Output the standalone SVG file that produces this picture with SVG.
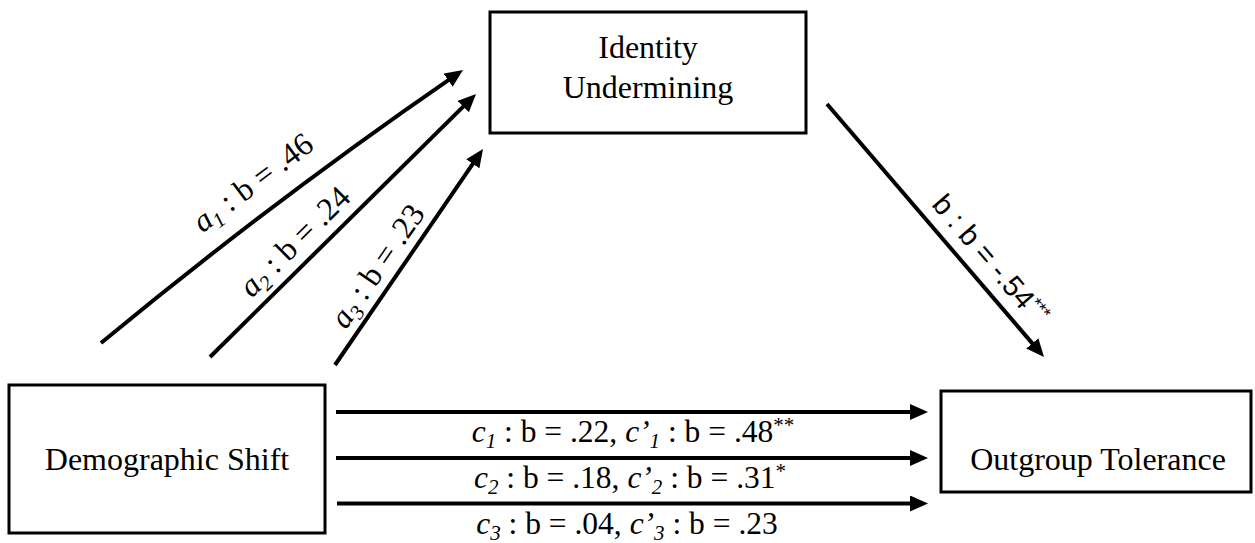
<svg xmlns="http://www.w3.org/2000/svg" width="1255" height="543" viewBox="0 0 1255 543">
<style>
.box{fill:#fff;stroke:#000;stroke-width:3}
.node{font-family:"Liberation Serif","Times New Roman",serif;font-size:32px;fill:#000;text-anchor:middle}
.edge{fill:none;stroke:#000;stroke-width:4;stroke-linecap:butt}
.lbl{font-family:"Liberation Serif","Times New Roman",serif;font-size:31.5px;fill:#000;text-anchor:middle}
.albl{font-family:"Liberation Serif","Times New Roman",serif;font-size:32px;fill:#000;text-anchor:middle}
.slbl{font-family:"Liberation Sans",Arial,sans-serif;font-size:29px;fill:#000;text-anchor:middle}
.it{font-style:italic}
</style>
<defs>
<marker id="ah" markerUnits="userSpaceOnUse" markerWidth="20" markerHeight="18" refX="6" refY="8" orient="auto">
<path d="M0,0 L18,8 L0,16 Z" fill="#000"/>
</marker>
</defs>
<rect width="1255" height="543" fill="#fff"/>
<g id="connectors">
<path class="edge" marker-end="url(#ah)" d="M101,343 Q276,198.5 453.1,76.8"/>
<line class="edge" marker-end="url(#ah)" x1="210" y1="357" x2="467.5" y2="102.4"/>
<line class="edge" marker-end="url(#ah)" x1="335" y1="365" x2="476.2" y2="158.9"/>
<line class="edge" marker-end="url(#ah)" x1="827" y1="104" x2="1036.2" y2="347.9"/>
<line class="edge" marker-end="url(#ah)" x1="336" y1="412" x2="916" y2="412"/>
<line class="edge" marker-end="url(#ah)" x1="336" y1="458" x2="916" y2="458"/>
<line class="edge" marker-end="url(#ah)" x1="337" y1="503.5" x2="916" y2="503.5"/>
</g>
<g id="node-identity">
<rect class="box" x="490" y="12" width="316" height="121"/>
<text class="node" x="648" y="58">Identity</text>
<text class="node" x="648" y="98">Undermining</text>
</g>
<g id="node-demographic">
<rect class="box" x="9" y="385" width="316" height="148"/>
<text class="node" x="167" y="470">Demographic Shift</text>
</g>
<g id="node-outgroup">
<rect class="box" x="941" y="391" width="310" height="101"/>
<text class="node" x="1098" y="470">Outgroup Tolerance</text>
</g>
<g id="labels">
<text class="albl" transform="translate(259,191) rotate(-37)"><tspan class="it">a</tspan><tspan class="it" font-size="21" dy="6">1</tspan><tspan dy="-6"> : b = .46</tspan></text>
<text class="albl" transform="translate(302,249) rotate(-44.7)"><tspan class="it">a</tspan><tspan class="it" font-size="21" dy="6">2</tspan><tspan dy="-6"> : b = .24</tspan></text>
<text class="albl" transform="translate(386,272) rotate(-55.6)"><tspan class="it">a</tspan><tspan class="it" font-size="21" dy="6">3</tspan><tspan dy="-6"> : b = .23</tspan></text>
<text class="slbl" transform="translate(983,266) rotate(49.4)">b : b = -.54<tspan font-size="18" dy="-10">***</tspan></text>
<text class="lbl" x="633" y="442"><tspan class="it">c</tspan><tspan class="it" font-size="21" dy="6">1</tspan><tspan dy="-6"> : b = .22, </tspan><tspan class="it">c’</tspan><tspan class="it" font-size="21" dy="6">1</tspan><tspan dy="-6"> : b = .48</tspan><tspan font-size="21" dy="-10">**</tspan></text>
<text class="lbl" x="630" y="488"><tspan class="it">c</tspan><tspan class="it" font-size="21" dy="6">2</tspan><tspan dy="-6"> : b = .18, </tspan><tspan class="it">c’</tspan><tspan class="it" font-size="21" dy="6">2</tspan><tspan dy="-6"> : b = .31</tspan><tspan font-size="21" dy="-10">*</tspan></text>
<text class="lbl" x="627" y="534"><tspan class="it">c</tspan><tspan class="it" font-size="21" dy="6">3</tspan><tspan dy="-6"> : b = .04, </tspan><tspan class="it">c’</tspan><tspan class="it" font-size="21" dy="6">3</tspan><tspan dy="-6"> : b = .23</tspan></text>
</g>
</svg>
